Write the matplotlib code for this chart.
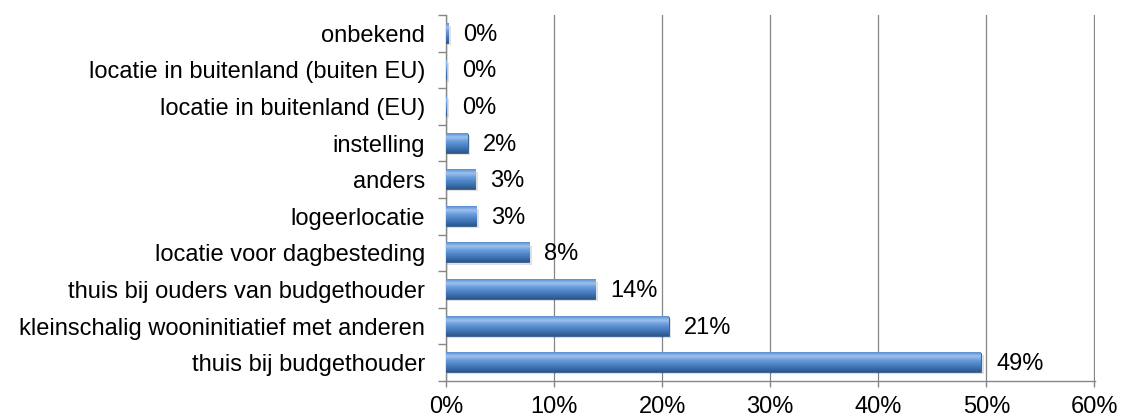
import numpy as np
import matplotlib.pyplot as plt
from matplotlib.colors import LinearSegmentedColormap

plt.rcParams['font.family'] = ['Liberation Sans', 'DejaVu Sans']

# data (bottom to top)
categories = [
    "thuis bij budgethouder",
    "kleinschalig wooninitiatief met anderen",
    "thuis bij ouders van budgethouder",
    "locatie voor dagbesteding",
    "logeerlocatie",
    "anders",
    "instelling",
    "locatie in buitenland (EU)",
    "locatie in buitenland (buiten EU)",
    "onbekend",
]
values = [49.5, 20.6, 13.8, 7.7, 2.8, 2.7, 2.0, 0.04, 0.04, 0.2]
value_labels = ["49%", "21%", "14%", "8%", "3%", "3%", "2%", "0%", "0%", "0%"]
x_ticks = [0, 10, 20, 30, 40, 50, 60]
x_tick_labels = ["0%", "10%", "20%", "30%", "40%", "50%", "60%"]

FS = 17

fig = plt.figure(figsize=(11.22, 4.17), dpi=100)
ax = fig.add_axes([0.3975, 0.0863, 0.9760 - 0.3975, 0.964 - 0.0863])

y = np.arange(len(categories))
bar_h = 0.52
grad = LinearSegmentedColormap.from_list(
    "barblue", ["#2b5689", "#3d6fae", "#4f86c9", "#6b9ddb", "#9cc2ee", "#5a8fd0"])
gimg = np.linspace(0, 1, 64).reshape(-1, 1)

bars = ax.barh(y, values, height=bar_h, color="#4f81bd", edgecolor="#2f5b8f",
               linewidth=0.6, zorder=3)
for b in bars:
    x0, y0 = b.get_x(), b.get_y()
    w, h = b.get_width(), b.get_height()
    # soft shadow
    ax.add_patch(plt.Rectangle((x0, y0 - 0.06), w + 0.25, h, color="#000000",
                               alpha=0.12, lw=0, zorder=2))
    ax.imshow(gimg, cmap=grad, aspect="auto", origin="lower",
              extent=[x0, x0 + w, y0, y0 + h], zorder=4)

for yi, v, lab in zip(y, values, value_labels):
    ax.annotate(lab, (v, yi), xytext=(11, -1), textcoords="offset points",
                va="center", ha="left", fontsize=FS, color="#000000")

ax.set_xlim(0, 60.06)
ax.set_ylim(-0.5, len(categories) - 0.5)
ax.set_xticks(x_ticks)
ax.set_xticklabels(x_tick_labels, fontsize=FS)
ax.set_yticks(y)
ax.set_yticklabels(categories, fontsize=FS)
ax.set_yticks(np.arange(-0.5, len(categories)), minor=True)

ax.tick_params(axis="y", which="major", length=0, pad=15)
ax.tick_params(axis="y", which="minor", length=6, color="#868686", width=1.0)
ax.tick_params(axis="x", length=4.5, color="#868686", width=1.0, pad=6)

ax.grid(axis="x", color="#868686", linewidth=0.9, zorder=0)
ax.set_axisbelow(True)
for side in ["top", "right"]:
    ax.spines[side].set_visible(False)
for side in ["left", "bottom"]:
    ax.spines[side].set_color("#868686")
    ax.spines[side].set_linewidth(1.0)

plt.savefig("out.png", dpi=100)
plt.close()
